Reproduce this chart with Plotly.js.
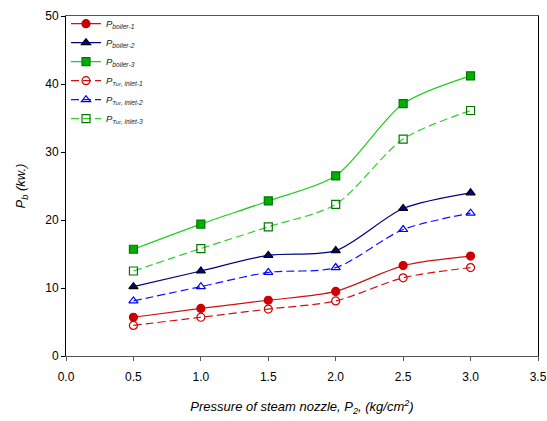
<!DOCTYPE html>
<html><head><meta charset="utf-8">
<script src="https://cdn.plot.ly/plotly-3.0.1.min.js"></script>
<style>body{margin:0;background:#fff}#c{width:547px;height:421px}</style>
</head><body><div id="c"></div>
<script>
const pressure = [0.5, 1.0, 1.5, 2.0, 2.5, 3.0];
const boiler1 = [5.7, 7.0, 8.2, 9.5, 13.3, 14.7];
const boiler2 = [10.2, 12.5, 14.8, 15.5, 21.7, 24.0];
const boiler3 = [15.7, 19.4, 22.8, 26.5, 37.1, 41.2];
const turInlet1 = [4.5, 5.7, 6.9, 8.1, 11.5, 13.0];
const turInlet2 = [8.1, 10.2, 12.3, 13.0, 18.6, 21.0];
const turInlet3 = [12.5, 15.8, 19.0, 22.3, 31.9, 36.1];
const tur = "<span style='font-size:6px'>Tur</span>";
const names = ["P<sub>boiler-1</sub>", "P<sub>boiler-2</sub>", "P<sub>boiler-3</sub>",
  "P<sub>" + tur + ", inlet-1</sub>", "P<sub>" + tur + ", inlet-2</sub>", "P<sub>" + tur + ", inlet-3</sub>"];

function tr(y, name, lineColor, dash, sym, fill, border) {
  return {x: pressure, y: y, name: name, type: 'scatter', mode: 'lines+markers',
    line: {color: lineColor, width: 1.2, shape: 'spline', smoothing: 0.8, dash: dash},
    marker: {symbol: sym, size: 8, color: fill, line: {color: border, width: 1.2}}};
}
const data = [
  tr(boiler1, names[0], '#d01010', 'solid', 'circle', '#cc0000', '#cc0000'),
  tr(boiler2, names[1], '#000080', 'solid', 'triangle-up', '#0000a0', '#000000'),
  tr(boiler3, names[2], '#22cc22', 'solid', 'square', '#00b000', '#007700'),
  tr(turInlet1, names[3], '#d01010', '8px,4px', 'circle-open', '#cc0000', '#cc0000'),
  tr(turInlet2, names[4], '#1010ff', '8px,4px', 'triangle-up-open', '#0000ff', '#0000ff'),
  tr(turInlet3, names[5], '#33cc33', '8px,4px', 'square-open', '#007700', '#007700')
];
const fam = 'Liberation Sans, Arial, sans-serif';
const layout = {
  width: 547, height: 421,
  margin: {l: 66, r: 9, t: 13, b: 65},
  paper_bgcolor: '#fff', plot_bgcolor: '#fff',
  font: {family: fam, size: 12, color: '#000'},
  showlegend: true,
  legend: {x: 0.0, y: 1.02, xanchor: 'left', yanchor: 'top', bgcolor: 'rgba(0,0,0,0)',
    font: {family: fam, size: 9.5, style: 'italic', color: '#222'},
    tracegroupgap: 0, itemwidth: 30},
  xaxis: {range: [0, 3.5], dtick: 0.5, tickformat: '.1f', showgrid: false, zeroline: false,
    showline: true, linecolor: '#555', linewidth: 1, mirror: true,
    ticks: 'outside', ticklen: 4, tickcolor: '#555', ticklabelstandoff: 6,
    title: {text: 'Pressure of steam nozzle, P<sub>2</sub>, (kg/cm<sup>2</sup>)',
      font: {family: fam, size: 13, style: 'italic'}, standoff: 18}},
  yaxis: {range: [0, 50], dtick: 10, showgrid: false, zeroline: false,
    showline: true, linecolor: '#000', linewidth: 1, mirror: true,
    ticks: 'outside', ticklen: 4, tickcolor: '#000',
    title: {text: 'P<sub>b</sub> (kw.)',
      font: {family: fam, size: 13, style: 'italic'}, standoff: 16}}
};
Plotly.newPlot('c', data, layout, {displayModeBar: false, staticPlot: true});
</script></body></html>
